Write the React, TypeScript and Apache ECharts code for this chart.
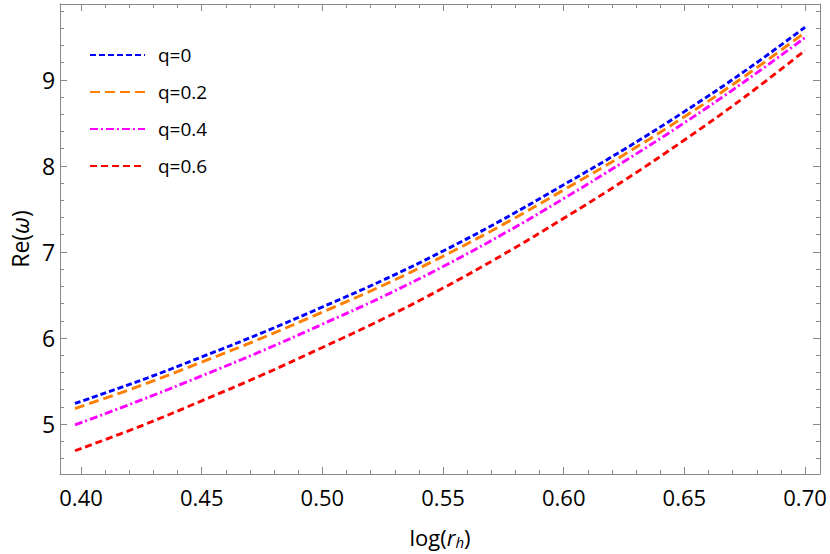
import React, { useEffect, useRef } from "react";
import * as echarts from "echarts";

const xs = [0.3975, 0.425, 0.45, 0.475, 0.5, 0.525, 0.55, 0.575, 0.6, 0.625, 0.65, 0.675, 0.7];
const q0 = [5.24, 5.51, 5.78, 6.06, 6.36, 6.67, 7.01, 7.38, 7.78, 8.19, 8.63, 9.1, 9.61];
const q02 = [5.18, 5.45, 5.72, 6.0, 6.3, 6.61, 6.95, 7.32, 7.72, 8.13, 8.57, 9.04, 9.55];
const q04 = [4.99, 5.28, 5.56, 5.85, 6.16, 6.48, 6.83, 7.21, 7.62, 8.05, 8.5, 8.98, 9.49];
const q06 = [4.69, 4.98, 5.27, 5.57, 5.89, 6.22, 6.58, 6.97, 7.39, 7.83, 8.3, 8.8, 9.34];
const seriesNames = ["q=0", "q=0.2", "q=0.4", "q=0.6"];
const xMajor = [0.4, 0.45, 0.5, 0.55, 0.6, 0.65, 0.7];
const xMinor = [0.41, 0.42, 0.43, 0.44, 0.46, 0.47, 0.48, 0.49, 0.51, 0.52, 0.53, 0.54, 0.56, 0.57, 0.58, 0.59, 0.61, 0.62, 0.63, 0.64, 0.66, 0.67, 0.68, 0.69];
const yMajor = [5, 6, 7, 8, 9];
const yMinor = [4.6, 4.8, 5.2, 5.4, 5.6, 5.8, 6.2, 6.4, 6.6, 6.8, 7.2, 7.4, 7.6, 7.8, 8.2, 8.4, 8.6, 8.8, 9.2, 9.4, 9.6, 9.8];

const X_MIN = 0.3913;
const X_MAX = 0.7062;
const Y_MIN = 4.42;
const Y_MAX = 9.88;

const FONT = "Open Sans";
const AX = "#888888";

export default function App() {
  const ref = useRef<HTMLDivElement>(null);
  useEffect(() => {
    if (!ref.current) return;
    const chart = echarts.init(ref.current, undefined, { renderer: "svg" });
    const mk = (ys: number[]) => xs.map((x, i) => [x, ys[i]]);
    const colors = ["#0000ff", "#ff8000", "#ff00ff", "#ff0000"];
    const dashes = [[6, 3], [10, 5], [8, 3, 2, 3], [7, 4]];
    const datas = [q0, q02, q04, q06];

    const xAxisBase = (position: string, ticks: number[], len: number, showLine: boolean, labels: boolean, name?: boolean) => ({
      type: "value",
      min: X_MIN,
      max: X_MAX,
      position,
      splitLine: { show: false },
      axisLine: { show: showLine, onZero: false, lineStyle: { color: AX, width: 1 } },
      axisTick: { show: true, inside: true, length: len, customValues: ticks, lineStyle: { color: AX, width: 1 } },
      axisLabel: labels
        ? { show: true, customValues: ticks, formatter: (v: number) => v.toFixed(2), fontFamily: FONT, fontSize: 22, color: "#000", margin: 12 }
        : { show: false },
      ...(name
        ? {
            name: "log({i|r}{s|h})",
            nameLocation: "middle",
            nameGap: 50,
            nameTextStyle: {
              fontFamily: FONT,
              fontSize: 22,
              color: "#000",
              rich: {
                i: { fontFamily: FONT, fontSize: 22, fontStyle: "italic", color: "#000" },
                s: { fontFamily: FONT, fontSize: 15, fontStyle: "italic", color: "#000", padding: [10, 0, 0, 0] },
              },
            },
          }
        : {}),
    });
    const yAxisBase = (position: string, ticks: number[], len: number, showLine: boolean, labels: boolean, name?: boolean) => ({
      type: "value",
      min: Y_MIN,
      max: Y_MAX,
      position,
      splitLine: { show: false },
      axisLine: { show: showLine, onZero: false, lineStyle: { color: AX, width: 1 } },
      axisTick: { show: true, inside: true, length: len, customValues: ticks, lineStyle: { color: AX, width: 1 } },
      axisLabel: labels
        ? { show: true, customValues: ticks, formatter: (v: number) => String(v), fontFamily: FONT, fontSize: 23, color: "#000", margin: 5 }
        : { show: false },
      ...(name
        ? {
            name: "Re({i|ω})",
            nameLocation: "middle",
            nameGap: 29,
            nameRotate: 90,
            nameTextStyle: {
              fontFamily: FONT,
              fontSize: 23,
              color: "#000",
              rich: { i: { fontFamily: FONT, fontSize: 23, fontStyle: "italic", color: "#000" } },
            },
          }
        : {}),
    });

    chart.setOption({
      animation: false,
      grid: { left: 60, right: 10, top: 4, bottom: 80, containLabel: false },
      legend: {
        orient: "vertical",
        left: 84,
        top: 40,
        itemWidth: 55,
        itemHeight: 14,
        itemGap: 17,
        data: seriesNames,
        itemStyle: { opacity: 0 },
        textStyle: { fontFamily: FONT, fontSize: 19, color: "#000", lineHeight: 20, padding: [0, 0, 0, 8] },
      },
      xAxis: [
        xAxisBase("bottom", xMajor, 7, true, true, true),
        xAxisBase("bottom", xMinor, 4, false, false),
        xAxisBase("top", xMajor, 7, true, false),
        xAxisBase("top", xMinor, 4, false, false),
      ],
      yAxis: [
        yAxisBase("left", yMajor, 7, true, true, true),
        yAxisBase("left", yMinor, 4, false, false),
        yAxisBase("right", yMajor, 7, true, false),
        yAxisBase("right", yMinor, 4, false, false),
      ],
      series: datas.map((d, i) => ({
        name: seriesNames[i],
        type: "line",
        xAxisIndex: 0,
        yAxisIndex: 0,
        data: mk(d),
        smooth: 0.4,
        symbol: "none",
        showSymbol: false,
        z: 10 - i,
        lineStyle: { color: colors[i], width: 2.9, type: dashes[i] },
        itemStyle: { color: colors[i] },
      })),
    });
    return () => chart.dispose();
  }, []);
  return <div ref={ref} style={{ position: "absolute", left: 0, top: 0, width: 830, height: 554 }} />;
}
